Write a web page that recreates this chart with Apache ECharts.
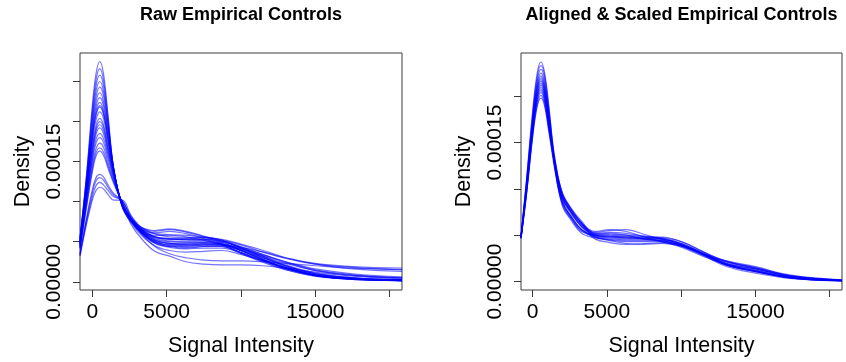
<!DOCTYPE html>
<html>
<head>
<meta charset="utf-8">
<title>Empirical Controls</title>
<script src="https://cdn.jsdelivr.net/npm/echarts@6.0.0/dist/echarts.min.js"></script>
<style>
  html, body { margin: 0; padding: 0; background: #ffffff; }
  #chart { width: 846px; height: 362px; }
</style>
</head>
<body>
<div id="chart"></div>
<script>
// Density values below are stored in units of 1e-5.

// Signal intensity grid shared by the raw control curves
const rawX = [-830, -400, 0, 250, 500, 750, 1050, 1450, 2000, 2600, 3300, 4200, 5200, 6300, 7500, 8700, 10000, 11500, 13000, 15000, 17500, 20830];

// One density curve per raw control sample
const rawDensity = [
  [5.5, 13.2, 22.0, 26.0, 27.5, 26.0, 20.9, 13.8, 9.4, 7.4, 5.8, 4.5, 3.9, 3.7, 3.8, 3.9, 3.4, 2.6, 1.8, 0.9, 0.4, 0.15],
  [5.4, 13.0, 21.4, 25.2, 26.6, 25.2, 20.5, 13.9, 9.4, 7.5, 6.0, 4.8, 4.3, 4.1, 4.2, 4.2, 3.6, 2.6, 1.7, 0.8, 0.35, 0.15],
  [5.4, 12.7, 20.8, 24.5, 25.8, 24.5, 20.0, 13.9, 9.5, 7.6, 6.1, 5.0, 4.6, 4.5, 4.5, 4.4, 3.7, 2.7, 1.7, 0.8, 0.35, 0.15],
  [5.3, 12.5, 20.3, 23.8, 25.0, 23.8, 19.7, 14.0, 9.5, 7.6, 6.2, 5.2, 4.8, 4.6, 4.7, 4.6, 3.9, 2.8, 1.8, 0.8, 0.35, 0.15],
  [5.2, 12.3, 19.7, 23.1, 24.3, 23.2, 19.3, 14.0, 9.5, 7.7, 6.3, 5.3, 5.0, 4.9, 4.9, 4.7, 3.9, 2.8, 1.7, 0.8, 0.3, 0.15],
  [5.1, 12.0, 19.2, 22.5, 23.6, 22.5, 18.9, 13.9, 9.6, 7.7, 6.2, 5.0, 4.5, 4.3, 4.4, 4.4, 3.9, 3.0, 2.0, 1.0, 0.45, 0.2],
  [5.1, 11.8, 18.8, 21.9, 23.0, 22.0, 18.6, 13.9, 9.6, 7.8, 6.4, 5.6, 5.4, 5.2, 5.1, 4.8, 3.9, 2.8, 1.7, 0.8, 0.35, 0.15],
  [5.0, 11.6, 18.4, 21.4, 22.4, 21.4, 18.2, 13.8, 9.6, 7.8, 6.5, 5.8, 5.8, 5.6, 5.2, 4.6, 3.6, 2.6, 1.6, 0.8, 0.35, 0.2],
  [4.9, 11.5, 18.1, 21.0, 22.0, 21.1, 18.0, 13.8, 9.7, 7.9, 6.6, 6.1, 6.3, 6.0, 5.4, 4.6, 3.5, 2.4, 1.5, 0.7, 0.3, 0.15],
  [4.9, 11.4, 17.9, 20.8, 21.8, 20.9, 17.8, 13.7, 9.7, 7.7, 6.3, 5.2, 4.8, 4.7, 4.8, 4.7, 4.0, 3.0, 2.0, 1.0, 0.5, 0.25],
  [4.8, 11.2, 17.5, 20.2, 21.2, 20.4, 17.5, 13.6, 9.7, 7.9, 6.7, 6.3, 6.5, 6.2, 5.6, 4.8, 3.6, 2.5, 1.5, 0.7, 0.3, 0.15],
  [4.7, 10.9, 16.9, 19.5, 20.4, 19.6, 17.0, 13.5, 9.7, 7.8, 6.4, 5.4, 5.1, 5.0, 5.1, 5.0, 4.2, 3.1, 2.0, 1.0, 0.5, 0.25],
  [4.7, 10.8, 16.6, 19.1, 20.0, 19.3, 16.7, 13.5, 9.7, 7.2, 5.4, 3.8, 3.2, 2.5, 2.2, 2.1, 2.1, 2.0, 1.7, 1.2, 0.7, 0.35],
  [4.6, 10.6, 16.3, 18.8, 19.6, 18.9, 16.5, 13.3, 9.8, 8.0, 6.8, 6.4, 6.6, 6.3, 5.7, 5.0, 3.9, 2.7, 1.7, 0.8, 0.35, 0.2],
  [4.5, 10.4, 15.9, 18.4, 19.2, 18.5, 16.2, 13.2, 9.8, 7.8, 6.4, 5.5, 5.3, 5.3, 5.3, 5.1, 4.3, 3.2, 2.1, 1.1, 0.5, 0.25],
  [4.5, 10.2, 15.4, 17.8, 18.5, 17.9, 15.8, 13.0, 9.8, 7.7, 6.2, 5.0, 4.6, 4.6, 4.7, 4.7, 4.1, 3.2, 2.3, 1.4, 0.8, 0.5],
  [4.4, 10.0, 15.1, 17.3, 18.0, 17.4, 15.4, 12.8, 9.8, 7.9, 6.6, 6.0, 5.9, 5.8, 5.6, 5.2, 4.2, 3.0, 1.9, 0.9, 0.45, 0.2],
  [4.3, 9.7, 14.5, 16.6, 17.3, 16.8, 14.9, 12.6, 9.9, 7.6, 6.1, 4.9, 4.4, 4.2, 4.4, 4.5, 4.1, 3.3, 2.5, 1.6, 1.0, 0.6],
  [4.2, 9.4, 14.1, 16.1, 16.7, 16.2, 14.5, 12.4, 9.9, 7.7, 6.2, 5.1, 4.8, 4.8, 4.9, 4.9, 4.3, 3.4, 2.5, 1.5, 0.9, 0.5],
  [4.1, 9.2, 13.7, 15.7, 16.3, 15.8, 14.2, 12.2, 9.9, 7.8, 6.5, 5.6, 5.3, 5.3, 5.3, 5.1, 4.4, 3.4, 2.4, 1.4, 0.8, 0.45],
  [3.5, 7.9, 11.5, 13.0, 13.4, 13.1, 12.1, 11.0, 10.1, 8.2, 6.6, 5.6, 5.4, 5.4, 5.5, 5.2, 4.6, 3.7, 2.9, 2.2, 1.8, 1.5],
  [3.4, 7.7, 11.1, 12.6, 13.0, 12.7, 11.8, 10.8, 10.1, 8.0, 6.2, 4.8, 4.4, 4.4, 4.6, 4.6, 4.3, 3.7, 3.0, 2.3, 1.9, 1.7],
  [3.3, 7.4, 10.6, 12.0, 12.4, 12.1, 11.4, 10.6, 10.2, 7.9, 6.0, 4.4, 3.5, 3.0, 2.7, 2.6, 2.6, 2.5, 2.3, 2.0, 1.7, 1.5],
  [3.2, 7.1, 10.2, 11.4, 11.8, 11.6, 10.9, 10.2, 10.2, 8.3, 6.8, 6.0, 5.6, 5.5, 5.5, 5.3, 4.7, 3.9, 3.0, 2.2, 1.6, 1.3]
];

// Signal intensity grid shared by the aligned and scaled curves
const alignedX = [-780, -400, 0, 300, 560, 800, 1100, 1500, 2000, 2600, 3300, 4200, 5200, 6300, 7500, 8700, 10000, 11500, 13000, 15000, 17500, 20830];

// One density curve per aligned and scaled control sample
const alignedDensity = [
  [4.9, 11.2, 18.3, 22.4, 23.7, 22.6, 18.9, 12.6, 8.2, 6.6, 5.2, 4.7, 4.5, 4.4, 4.4, 4.3, 3.9, 3.0, 1.8, 1.05, 0.35, 0.08],
  [4.9, 11.0, 18.0, 22.0, 23.3, 22.3, 18.6, 13.2, 9.2, 7.5, 5.9, 4.6, 4.2, 4.0, 4.1, 4.2, 3.9, 3.0, 2.2, 1.5, 0.6, 0.15],
  [4.8, 10.9, 17.7, 21.6, 22.9, 21.9, 18.3, 12.7, 8.6, 7.0, 5.6, 4.9, 4.8, 4.7, 4.6, 4.4, 3.9, 2.9, 1.8, 1.1, 0.4, 0.1],
  [4.8, 10.7, 17.4, 21.3, 22.5, 21.5, 18.0, 13.3, 9.5, 7.7, 6.3, 4.8, 4.6, 4.5, 4.5, 4.5, 4.1, 3.1, 2.25, 1.6, 0.65, 0.18],
  [4.8, 10.5, 17.2, 21.0, 22.2, 21.2, 17.8, 12.3, 8.3, 6.8, 5.4, 5.1, 5.2, 5.0, 4.6, 4.3, 3.8, 2.8, 1.65, 0.9, 0.3, 0.06],
  [4.8, 10.4, 17.0, 20.8, 22.0, 21.0, 17.6, 12.8, 9.0, 7.4, 6.0, 5.0, 4.9, 4.8, 4.6, 4.4, 3.9, 2.9, 1.95, 1.25, 0.43, 0.1],
  [4.7, 10.3, 16.9, 20.6, 21.8, 20.8, 17.5, 12.9, 9.2, 7.7, 6.3, 5.4, 5.6, 5.4, 4.8, 4.3, 3.7, 2.7, 1.9, 1.35, 0.5, 0.12],
  [4.8, 10.3, 16.8, 20.4, 21.6, 20.6, 17.3, 12.4, 8.5, 6.8, 5.5, 4.8, 4.4, 4.1, 4.0, 4.1, 3.8, 3.0, 1.85, 1.1, 0.4, 0.08],
  [4.7, 10.2, 16.6, 20.2, 21.4, 20.5, 17.2, 13.0, 9.5, 7.8, 6.3, 5.0, 4.9, 4.8, 4.7, 4.6, 4.1, 3.0, 2.1, 1.45, 0.55, 0.15],
  [4.8, 10.1, 16.5, 20.0, 21.2, 20.3, 17.1, 12.5, 8.9, 7.3, 5.9, 5.2, 5.3, 5.2, 4.9, 4.6, 4.0, 2.9, 1.85, 1.15, 0.37, 0.1],
  [4.7, 10.0, 16.3, 19.9, 21.0, 20.1, 16.9, 12.8, 9.2, 7.5, 6.1, 4.9, 4.7, 4.6, 4.6, 4.7, 4.3, 3.2, 2.2, 1.4, 0.5, 0.12],
  [4.7, 9.9, 16.2, 19.7, 20.8, 19.9, 16.8, 12.3, 8.7, 7.0, 5.6, 4.8, 4.5, 4.3, 4.3, 4.4, 4.0, 3.0, 1.9, 1.15, 0.36, 0.08],
  [4.8, 9.8, 16.0, 19.5, 20.6, 19.7, 16.6, 13.0, 9.6, 7.9, 6.5, 5.1, 5.0, 4.9, 4.8, 4.6, 4.0, 2.9, 2.15, 1.5, 0.58, 0.15],
  [4.7, 9.7, 15.9, 19.3, 20.4, 19.5, 16.5, 12.5, 9.1, 7.5, 6.1, 5.3, 5.5, 5.6, 5.1, 4.5, 3.8, 2.8, 1.8, 1.2, 0.4, 0.1],
  [4.7, 9.6, 15.7, 19.0, 20.1, 19.2, 16.3, 12.0, 8.6, 7.0, 5.6, 5.0, 4.8, 4.7, 4.7, 4.8, 4.3, 3.2, 1.9, 1.05, 0.35, 0.06],
  [4.6, 9.5, 15.5, 18.8, 19.8, 19.0, 16.1, 12.6, 9.4, 7.8, 6.3, 5.2, 5.1, 5.0, 4.9, 4.7, 4.1, 3.0, 2.0, 1.35, 0.55, 0.13]
];

// Axis ticks and the subset of ticks that carry a label
const xTicks = [0, 5000, 10000, 15000, 20000];
const xLabels = [0, 5000, 15000];
const rawYTicks = [0, 5, 10, 15, 20, 25];
const alignedYTicks = [0, 5, 10, 15, 20];
const yLabels = [0, 15];

const panelTitles = ['Raw Empirical Controls', 'Aligned & Scaled Empirical Controls'];
const xTitle = 'Signal Intensity';
const yTitle = 'Density';

const FONT = '"Liberation Sans", Arial, Helvetica, sans-serif';
const INK = '#000000';
const FRAME = '#3a3a3a';
const CURVE = 'rgba(0, 0, 255, 0.55)';

const panels = [
  { left: 80, top: 53, width: 322, height: 239, xMin: -830, xMax: 20830, yMin: -1.03, yMax: 28.56, yTicks: rawYTicks, xs: rawX, curves: rawDensity },
  { left: 521, top: 53, width: 321, height: 239, xMin: -780, xMax: 20830, yMin: -0.92, yMax: 24.67, yTicks: alignedYTicks, xs: alignedX, curves: alignedDensity }
];

function densityLabel(v) {
  return (v * 1e-5).toFixed(5);
}

const option = {
  backgroundColor: '#ffffff',
  animation: false,
  grid: panels.map(p => ({
    left: p.left, top: p.top, width: p.width, height: p.height,
    show: true, borderColor: FRAME, borderWidth: 1, backgroundColor: 'transparent',
    containLabel: false
  })),
  xAxis: panels.map((p, i) => ({
    type: 'value', gridIndex: i, min: p.xMin, max: p.xMax,
    axisLine: { show: false, onZero: false },
    splitLine: { show: false },
    axisTick: { show: true, customValues: xTicks, length: 7, lineStyle: { color: FRAME, width: 1 } },
    axisLabel: { customValues: xLabels, margin: 12, fontSize: 21, color: INK, fontFamily: FONT, formatter: v => String(v) },
    name: xTitle, nameLocation: 'middle', nameGap: 45,
    nameTextStyle: { fontSize: 21.5, color: INK, fontFamily: FONT }
  })),
  yAxis: panels.map((p, i) => ({
    type: 'value', gridIndex: i, min: p.yMin, max: p.yMax,
    axisLine: { show: false, onZero: false },
    splitLine: { show: false },
    axisTick: { show: true, customValues: p.yTicks, length: 7, lineStyle: { color: FRAME, width: 1 } },
    axisLabel: { customValues: yLabels, rotate: 90, margin: 15, fontSize: 21, color: INK, fontFamily: FONT, formatter: densityLabel },
    name: yTitle, nameLocation: 'middle', nameGap: 46,
    nameTextStyle: { fontSize: 21.5, color: INK, fontFamily: FONT }
  })),
  graphic: panels.map((p, i) => ({
    type: 'text', x: p.left + p.width / 2, y: 15,
    style: { text: panelTitles[i], textAlign: 'center', textVerticalAlign: 'middle', fill: INK, font: 'bold 18px ' + FONT }
  })),
  series: []
};

panels.forEach((p, i) => {
  p.curves.forEach((curve, k) => {
    option.series.push({
      type: 'line', name: (i === 0 ? 'raw-' : 'aligned-') + (k + 1),
      xAxisIndex: i, yAxisIndex: i,
      data: p.xs.map((x, j) => [x, curve[j]]),
      showSymbol: false, smooth: 0.4, silent: true, clip: true,
      lineStyle: { color: CURVE, width: 1.2 }
    });
  });
});

const chart = echarts.init(document.getElementById('chart'), null, { renderer: 'canvas' });
chart.setOption(option);
</script>
</body>
</html>
